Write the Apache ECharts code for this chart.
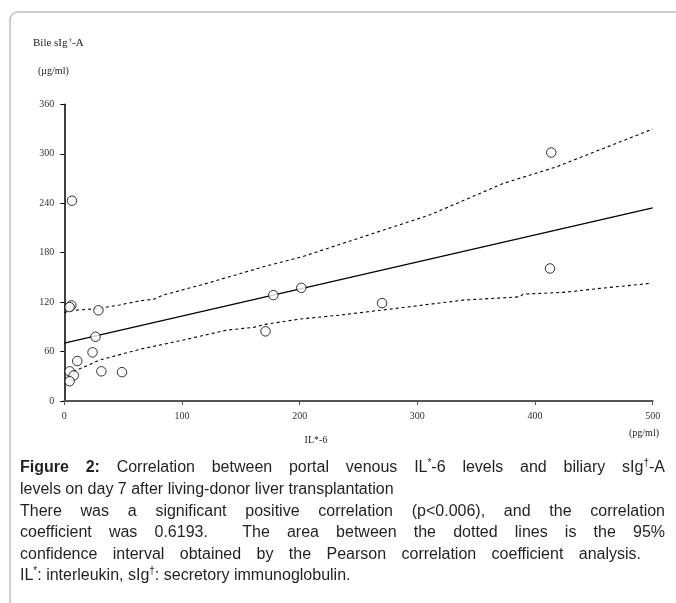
<!DOCTYPE html>
<html><head><meta charset="utf-8">
<script src="https://cdn.jsdelivr.net/npm/echarts@6/dist/echarts.min.js"></script>
<style>html,body{margin:0;padding:0;background:#fff}#c{width:676px;height:603px}</style>
</head><body><div id="c"></div>
<script>
// ---- data ----
const ilValues   = [6.5, 6, 4.5, 29, 26.5, 24, 11, 4.5, 31.5, 49, 8, 4.5, 171, 177.6, 201.4, 270, 413.8, 412.7];
const sigaValues = [243, 116, 114, 110, 78, 59, 48.5, 36, 36, 35, 31, 24, 84.5, 128.5, 137.3, 118.8, 301.5, 160.8];
const fitX = [0, 500];
const fitY = [70.3, 234.3];
const upperX = [0, 8, 27.5, 47, 64, 76, 84, 121, 172, 202, 234, 311, 373, 418, 500];
const upperY = [107.5, 110, 112, 116.5, 121.5, 123.5, 128.5, 142.7, 164, 175, 190, 226, 264, 284, 330];
const lowerX = [7.6, 30, 64, 101, 138, 161, 172, 200, 234, 282, 339, 387, 390, 424, 455, 498];
const lowerY = [35.5, 49.7, 62.6, 74, 86, 89.3, 93.3, 99.4, 104.2, 112.4, 122.4, 126.4, 129.7, 131.8, 136.6, 142.7];
const xTicks = [0, 100, 200, 300, 400, 500];
const yTicks = [0, 60, 120, 180, 240, 300, 360];

const zip = (a, b) => a.map((v, i) => [v, b[i]]);

// ---- caption ----
// each line: list of words; each word: list of [text, style] (n normal, b bold, s superscript)
const captionLines = [
  {justifyTo: 665, words: [[['Figure','b']],[['2:','b']],[['Correlation','n']],[['between','n']],[['portal','n']],[['venous','n']],[['IL','n'],['*','s'],['-6','n']],[['levels','n']],[['and','n']],[['biliary','n']],[['sIg','n'],['\u2020','s'],['-A','n']]]},
  {justifyTo: 0, words: [[['levels','n']],[['on','n']],[['day','n']],[['7','n']],[['after','n']],[['living-donor','n']],[['liver','n']],[['transplantation','n']]]},
  {justifyTo: 665, words: [[['There','n']],[['was','n']],[['a','n']],[['significant','n']],[['positive','n']],[['correlation','n']],[['(p<0.006),','n']],[['and','n']],[['the','n']],[['correlation','n']]]},
  {justifyTo: 665, words: [[['coefficient','n']],[['was','n']],[['0.6193.','n']],[['','n']],[['The','n']],[['area','n']],[['between','n']],[['the','n']],[['dotted','n']],[['lines','n']],[['is','n']],[['the','n']],[['95%','n']]]},
  {justifyTo: 641, words: [[['confidence','n']],[['interval','n']],[['obtained','n']],[['by','n']],[['the','n']],[['Pearson','n']],[['correlation','n']],[['coefficient','n']],[['analysis.','n']]]},
  {justifyTo: 0, words: [[['IL','n'],['*','s'],[':','n']],[['interleukin,','n']],[['sIg','n'],['\u2020','s'],[':','n']],[['secretory','n']],[['immunoglobulin.','n']]]}
];

const FS = 16, FAM = '"Liberation Sans", Arial, sans-serif';
const fonts = {n: FS + 'px ' + FAM, b: 'bold ' + FS + 'px ' + FAM, s: '10px ' + FAM};
const ctx = document.createElement('canvas').getContext('2d');
function mw(t, st) { ctx.font = fonts[st]; return ctx.measureText(t).width; }
const capX0 = 20, capY0 = 468, capLH = 21.6;
const capEls = [];
captionLines.forEach((line, li) => {
  const y = capY0 + li * capLH;
  const wWidths = line.words.map(w => w.reduce((s, p) => s + mw(p[0], p[1]), 0));
  const total = wWidths.reduce((a, b) => a + b, 0);
  const nGaps = line.words.length - 1;
  const sp = line.justifyTo ? (line.justifyTo - capX0 - total) / nGaps : mw(' ', 'n');
  let x = capX0;
  line.words.forEach((w) => {
    w.forEach(p => {
      if (p[0]) {
        capEls.push({type: 'text', x: x, y: p[1] === 's' ? y - 5 : y, silent: true,
          style: {text: p[0], font: fonts[p[1]], fill: '#231f20', textVerticalAlign: 'middle', textAlign: 'left'}});
      }
      x += mw(p[0], p[1]);
    });
    x += sp;
  });
});

const serif = '"Liberation Serif", "Times New Roman", serif';
const chart = echarts.init(document.getElementById('c'), null, {renderer: 'canvas'});
chart.setOption({
  animation: false,
  backgroundColor: '#fff',
  grid: {left: 64.3, right: 23.3, top: 104.3, bottom: 202, containLabel: false},
  xAxis: {
    type: 'value', min: xTicks[0], max: xTicks[xTicks.length - 1], interval: 100,
    axisLine: {lineStyle: {color: '#555', width: 2}},
    axisTick: {show: true, length: 4, inside: false, lineStyle: {color: '#555', width: 1}},
    axisLabel: {margin: 10, fontFamily: serif, fontSize: 10, color: '#333'},
    splitLine: {show: false}
  },
  yAxis: {
    type: 'value', min: yTicks[0], max: yTicks[yTicks.length - 1], interval: 60,
    axisLine: {show: true, lineStyle: {color: '#000', width: 1.5}},
    axisTick: {show: true, length: 4, inside: false, lineStyle: {color: '#000', width: 1}},
    axisLabel: {margin: 10, fontFamily: serif, fontSize: 10, color: '#333'},
    splitLine: {show: false}
  },
  series: [
    {type: 'line', data: zip(upperX, upperY), showSymbol: false, symbol: 'none',
     lineStyle: {color: '#000', width: 1.1, type: [3, 3]}, z: 2},
    {type: 'line', data: zip(lowerX, lowerY), showSymbol: false, symbol: 'none',
     lineStyle: {color: '#000', width: 1.1, type: [3, 3]}, z: 2},
    {type: 'line', data: zip(fitX, fitY), showSymbol: false, symbol: 'none',
     lineStyle: {color: '#000', width: 1.2}, z: 2},
    {type: 'scatter', data: zip(ilValues, sigaValues), symbol: 'circle', symbolSize: 9.5,
     itemStyle: {color: '#fff', borderColor: '#000', borderWidth: 1}, z: 3}
  ],
  graphic: [
    {type: 'rect', shape: {x: 10, y: 12, width: 720, height: 640, r: 8}, silent: true,
     style: {fill: 'none', stroke: '#c0c0c0', lineWidth: 1.5}, z: -10},
    {type: 'text', x: 33, y: 43, silent: true, style: {text: 'Bile sIg', font: '11px ' + serif, fill: '#222', textVerticalAlign: 'middle'}},
    {type: 'text', x: 68.5, y: 40, silent: true, style: {text: '\u2020', font: '7px ' + serif, fill: '#222', textVerticalAlign: 'middle'}},
    {type: 'text', x: 72, y: 43, silent: true, style: {text: '-A', font: '11px ' + serif, fill: '#222', textVerticalAlign: 'middle'}},
    {type: 'text', x: 38, y: 71, silent: true, style: {text: '(\u00b5g/ml)', font: '10px ' + serif, fill: '#222', textVerticalAlign: 'middle'}},
    {type: 'text', x: 316, y: 440, silent: true, style: {text: 'IL*-6', font: '10px ' + serif, fill: '#222', textVerticalAlign: 'middle', textAlign: 'center'}},
    {type: 'text', x: 644, y: 433, silent: true, style: {text: '(pg/ml)', font: '10px ' + serif, fill: '#222', textVerticalAlign: 'middle', textAlign: 'center'}}
  ].concat(capEls)
});
</script></body></html>
